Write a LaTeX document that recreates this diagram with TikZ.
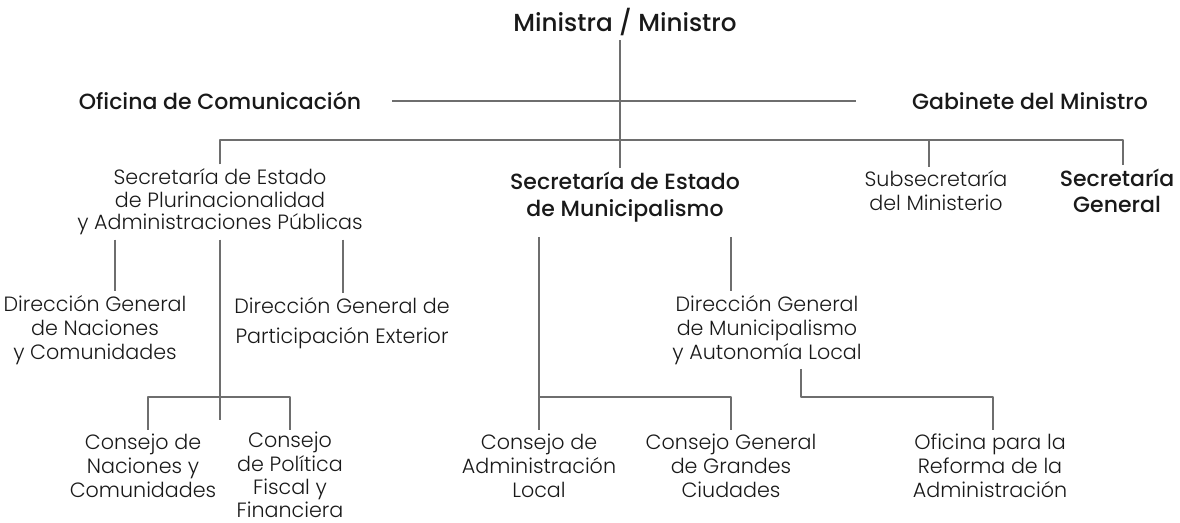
\documentclass[tikz,border=0pt]{standalone}
\usepackage{fontspec}
\setmainfont{Poppins Light}[BoldFont=Poppins Medium]
\usetikzlibrary{positioning}

\definecolor{ink}{RGB}{25,25,25}
\definecolor{rule}{RGB}{110,110,110}

\tikzset{
  unit/.style={align=center, text=ink, inner xsep=2pt, inner ysep=3pt,
    font=\fontsize{15.5}{18}\selectfont},
  head/.style={unit, font=\fontsize{16.5}{20}\selectfont\bfseries},
  link/.style={draw=rule, line width=0.8pt}
}

\begin{document}
\begin{tikzpicture}[x=0.75pt, y=-0.75pt, line join = round]
\useasboundingbox (0,0) rectangle (1180,522);

% first level
\node[head, font=\fontsize{18.5}{22}\selectfont\bfseries] (min) at (625,22) {Ministra / Ministro};
\node[head] (ofi) at (220,101) {Oficina de Comunicación};
\node[head] (gab) at (1030,101) {Gabinete del Ministro};

% second level
\node[unit, font=\fontsize{15.5}{17}\selectfont] (sep) at (220,202) {Secretaría de Estado\\de Plurinacionalidad\\y Administraciones Públicas};
\node[head] (mun) at (625,197) {Secretaría de Estado\\de Municipalismo};
\node[unit] (sub) at (936,191) {Subsecretaría\\del Ministerio};
\node[head] (gen) at (1117,191) {Secretaría\\General};

% direcciones generales
\node[unit] (dgn) at (95,330) {Dirección General\\de Naciones\\y Comunidades};
\node[unit, font=\fontsize{15.5}{22.5}\selectfont] (dgp) at (342,323) {Dirección General de\\Participación Exterior};
\node[unit] (dgm) at (767,330) {Dirección General\\de Municipalismo\\y Autonomía Local};

% consejos y oficinas
\node[unit] (cnc) at (143,466) {Consejo de\\Naciones y\\Comunidades};
\node[unit, inner ysep=0pt, font=\fontsize{15.5}{17.4}\selectfont] (cpf) at (290,475) {Consejo\\de Política\\Fiscal y\\Financiera};
\node[unit] (cal) at (539,466) {Consejo de\\Administración\\Local};
\node[unit] (cgg) at (731,466) {Consejo General\\de Grandes\\Ciudades};
\node[unit] (orf) at (990,466) {Oficina para la\\Reforma de la\\Administración};

% bus lines
\coordinate (spine) at (620,140);
\coordinate (plu-bus) at (220,397);
\coordinate (cnc-drop) at (148,397);
\coordinate (mun-bus) at (539,397);
\coordinate (orf-drop) at (993,397);

% ministro
\draw[link] (min.south -| spine) -- (mun.north -| spine);
\draw[link] ([xshift=21pt]ofi.east) -- ([xshift=-40pt]gab.west);
\draw[link] (sep.north) |- (spine) -| ([xshift=4.5pt]gen.north);
\draw[link] ([xshift=-5.25pt]sub.north) -- ([xshift=-5.25pt]sub.north |- spine);

% plurinacionalidad
\draw[link] ([xshift=-78.75pt]sep.south) -- ([xshift=15pt]dgn.north);
\draw[link] ([xshift=92.25pt]sep.south) -- ([xshift=0.75pt]dgp.north);
\draw[link] (sep.south) -- ([yshift=-17pt]plu-bus);
\draw[link] (cnc.north -| cnc-drop) |- (cpf.north |- plu-bus) -- (cpf.north |- cnc.north);

% municipalismo
\draw[link, shorten <=8pt] (mun.south -| mun-bus) -- (cal.north);
\draw[link, shorten <=8pt] (mun.south -| cgg) -- (dgm.north -| cgg);
\draw[link] (mun-bus) -| (cgg.north);
\draw[link] ([xshift=25.5pt]dgm.south) |- (orf-drop) -- (orf.north -| orf-drop);

\end{tikzpicture}
\end{document}
